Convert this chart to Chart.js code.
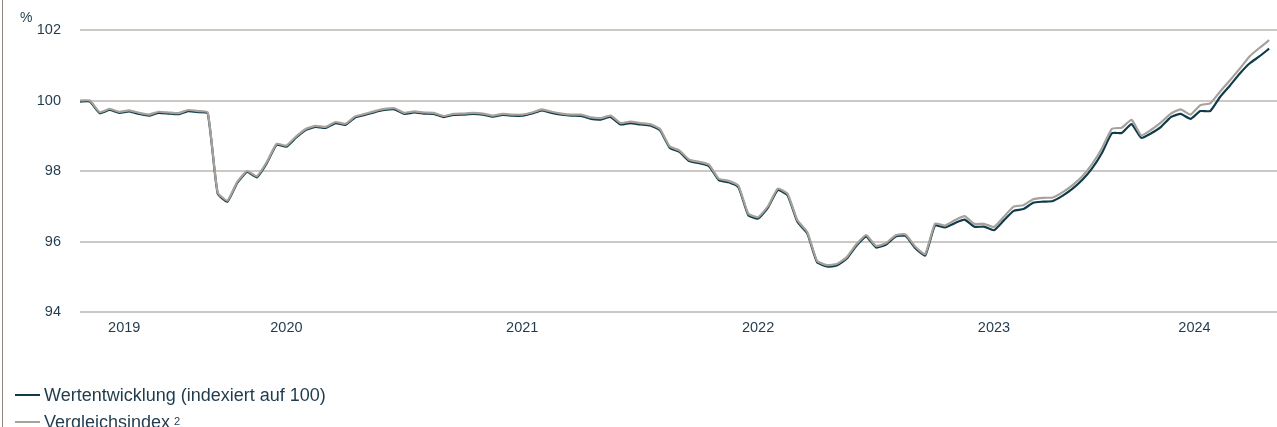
<!DOCTYPE html>
<html lang="de">
<head>
<meta charset="utf-8">
<title>Wertentwicklung</title>
<script src="https://cdn.jsdelivr.net/npm/chart.js@4.4.1/dist/chart.umd.min.js"></script>
<style>
  html, body { margin: 0; padding: 0; background: #fff; }
  #wrap { position: relative; width: 1277px; height: 427px; overflow: hidden; }
  #wrap::before { content: ''; position: absolute; left: 2px; top: 0; bottom: 0; border-left: 1px solid #8d847c; }
  #legend { position: absolute; left: 15px; top: 382px; font-family: "Liberation Sans", Arial, sans-serif; font-size: 18px; color: #1f3b4d; }
  .row { display: flex; align-items: center; height: 26.7px; line-height: 26.7px; white-space: nowrap; }
  .dash { width: 25px; height: 2px; margin-right: 4px; }
  .row sup { font-size: 11px; line-height: 0; position: relative; top: -1px; margin-left: 4px; }
</style>
</head>
<body>
<div id="wrap">
  <canvas id="chart" width="1277" height="427"></canvas>
  <div id="legend"></div>
</div>
<script>
// Halbmonatliche Stützpunkte
const dates = [
  '2019-08-15', '2019-09-01', '2019-09-15', '2019-10-01', '2019-10-15', '2019-11-01', '2019-11-15', '2019-12-01', '2019-12-15',
  '2020-01-01', '2020-01-15', '2020-02-01', '2020-02-15', '2020-03-01', '2020-03-15', '2020-04-01', '2020-04-15',
  '2020-05-01', '2020-05-15', '2020-06-01', '2020-06-15', '2020-07-01', '2020-07-15', '2020-08-01', '2020-08-15',
  '2020-09-01', '2020-09-15', '2020-10-01', '2020-10-15', '2020-11-01', '2020-11-15', '2020-12-01', '2020-12-15',
  '2021-01-01', '2021-01-15', '2021-02-01', '2021-02-15', '2021-03-01', '2021-03-15', '2021-04-01', '2021-04-15',
  '2021-05-01', '2021-05-15', '2021-06-01', '2021-06-15', '2021-07-01', '2021-07-15', '2021-08-01', '2021-08-15',
  '2021-09-01', '2021-09-15', '2021-10-01', '2021-10-15', '2021-11-01', '2021-11-15', '2021-12-01', '2021-12-15',
  '2022-01-01', '2022-01-15', '2022-02-01', '2022-02-15', '2022-03-01', '2022-03-15', '2022-04-01', '2022-04-15',
  '2022-05-01', '2022-05-15', '2022-06-01', '2022-06-15', '2022-07-01', '2022-07-15', '2022-08-01', '2022-08-15',
  '2022-09-01', '2022-09-15', '2022-10-01', '2022-10-15', '2022-11-01', '2022-11-15', '2022-12-01', '2022-12-15',
  '2023-01-01', '2023-01-15', '2023-02-01', '2023-02-15', '2023-03-01', '2023-03-15', '2023-04-01', '2023-04-15',
  '2023-05-01', '2023-05-15', '2023-06-01', '2023-06-15', '2023-07-01', '2023-07-15', '2023-08-01', '2023-08-15',
  '2023-09-01', '2023-09-15', '2023-10-01', '2023-10-15', '2023-11-01', '2023-11-15', '2023-12-01', '2023-12-15',
  '2024-01-01', '2024-01-15', '2024-02-01', '2024-02-15', '2024-03-01', '2024-03-15', '2024-04-01', '2024-04-15',
  '2024-05-01', '2024-05-15', '2024-06-01', '2024-06-15', '2024-07-01', '2024-07-15', '2024-08-01', '2024-08-15',
  '2024-09-01'
];

// Wertentwicklung (indexiert auf 100)
const fondsWerte = [
  99.97, 99.97, 99.64, 99.73, 99.65, 99.69, 99.62, 99.57, 99.65,
  99.63, 99.61, 99.70, 99.67, 99.63, 97.37, 97.13, 97.66,
  97.97, 97.82, 98.22, 98.74, 98.69, 98.95, 99.17, 99.25,
  99.22, 99.36, 99.31, 99.52, 99.59, 99.67, 99.73, 99.75,
  99.62, 99.66, 99.63, 99.62, 99.53, 99.59, 99.60, 99.62,
  99.60, 99.54, 99.59, 99.57, 99.57, 99.63, 99.72, 99.65,
  99.60, 99.57, 99.56, 99.48, 99.46, 99.53, 99.32, 99.36,
  99.32, 99.29, 99.16, 98.66, 98.54, 98.28, 98.22, 98.14,
  97.74, 97.68, 97.54, 96.75, 96.65, 96.96, 97.46, 97.31,
  96.56, 96.23, 95.41, 95.29, 95.32, 95.51, 95.88, 96.14,
  95.83, 95.91, 96.14, 96.16, 95.81, 95.60, 96.46, 96.40,
  96.52, 96.62, 96.42, 96.42, 96.32, 96.60, 96.87, 96.92,
  97.10, 97.13, 97.15, 97.30, 97.50, 97.75, 98.08, 98.52,
  99.07, 99.08, 99.33, 98.94, 99.07, 99.25, 99.53, 99.62,
  99.48, 99.70, 99.70, 100.10, 100.42, 100.76, 101.05, 101.25,
  101.47
];

// Vergleichsindex
const indexWerte = [
  100.00, 100.00, 99.67, 99.76, 99.68, 99.72, 99.65, 99.60, 99.68,
  99.66, 99.64, 99.73, 99.70, 99.66, 97.40, 97.16, 97.69,
  98.00, 97.85, 98.25, 98.77, 98.72, 98.98, 99.20, 99.28,
  99.25, 99.39, 99.34, 99.55, 99.62, 99.70, 99.76, 99.78,
  99.65, 99.69, 99.66, 99.65, 99.56, 99.62, 99.63, 99.65,
  99.63, 99.57, 99.62, 99.60, 99.60, 99.66, 99.75, 99.68,
  99.63, 99.60, 99.60, 99.52, 99.50, 99.57, 99.36, 99.40,
  99.36, 99.33, 99.20, 98.70, 98.58, 98.32, 98.26, 98.18,
  97.78, 97.72, 97.58, 96.79, 96.69, 97.00, 97.50, 97.35,
  96.60, 96.27, 95.45, 95.33, 95.36, 95.55, 95.92, 96.18,
  95.87, 95.95, 96.18, 96.20, 95.85, 95.64, 96.51, 96.45,
  96.60, 96.72, 96.50, 96.50, 96.41, 96.70, 96.99, 97.03,
  97.20, 97.24, 97.25, 97.40, 97.60, 97.85, 98.20, 98.65,
  99.20, 99.23, 99.45, 99.01, 99.17, 99.38, 99.63, 99.75,
  99.60, 99.87, 99.92, 100.25, 100.57, 100.90, 101.25, 101.49,
  101.71
];

const jahre = ['2019', '2020', '2021', '2022', '2023', '2024'];
const yTicks = [94, 96, 98, 100, 102];
const serienNamen = ['Wertentwicklung (indexiert auf 100)', 'Vergleichsindex'];
const fussnoten = ['', '2'];

const FARBE_FONDS = '#0e3c4b';
const FARBE_INDEX = '#a6a19b';
const FARBE_TEXT = '#1f3b4d';
const FARBE_GITTER = '#ccc8c3';
const X_MAX = 121.8;

// Jahresbeschriftung mittig über dem sichtbaren Teil des Jahres
const jahrTicks = jahre.map(j => {
  const first = dates.findIndex(d => d.startsWith(j));
  let last = first;
  dates.forEach((d, i) => { if (d.startsWith(j)) last = i; });
  return { value: (first + Math.min(last + 1, X_MAX)) / 2, label: j };
});

const prozentLabel = {
  id: 'prozentLabel',
  afterDraw(chart) {
    const ctx = chart.ctx;
    ctx.save();
    ctx.font = '14px "Liberation Sans", Arial, sans-serif';
    ctx.fillStyle = FARBE_TEXT;
    ctx.textAlign = 'left';
    ctx.textBaseline = 'middle';
    ctx.fillText('%', 20, 18);
    ctx.restore();
  }
};

new Chart(document.getElementById('chart'), {
  type: 'line',
  data: {
    datasets: [
      {
        label: serienNamen[0],
        data: fondsWerte.map((v, i) => ({ x: i, y: v })),
        borderColor: FARBE_FONDS,
        borderWidth: 2.2,
        pointRadius: 0,
        tension: 0.15,
        order: 2
      },
      {
        label: serienNamen[1],
        data: indexWerte.map((v, i) => ({ x: i, y: v })),
        borderColor: FARBE_INDEX,
        borderWidth: 2.2,
        pointRadius: 0,
        tension: 0.15,
        order: 1
      }
    ]
  },
  options: {
    responsive: false,
    animation: false,
    events: [],
    layout: { padding: { top: 30, bottom: 85, left: 0, right: 0 } },
    plugins: { legend: { display: false }, tooltip: { enabled: false } },
    scales: {
      x: {
        type: 'linear',
        min: 0,
        max: X_MAX,
        afterFit: s => { s.height = 30; },
        afterBuildTicks: s => { s.ticks = jahrTicks.map(t => ({ value: t.value })); },
        grid: { display: false, drawTicks: false },
        border: { display: false },
        ticks: {
          autoSkip: false,
          maxRotation: 0,
          padding: 7,
          color: FARBE_TEXT,
          font: { family: '"Liberation Sans", Arial, sans-serif', size: 14.5 },
          callback: v => (jahrTicks.find(t => Math.abs(t.value - v) < 0.01) || {}).label || ''
        }
      },
      y: {
        min: yTicks[0],
        max: yTicks[yTicks.length - 1],
        afterFit: s => { s.width = 80; },
        afterBuildTicks: s => { s.ticks = yTicks.map(v => ({ value: v })); },
        grid: { color: FARBE_GITTER, lineWidth: 2, drawTicks: false },
        border: { display: false },
        ticks: {
          padding: 19,
          color: FARBE_TEXT,
          font: { family: '"Liberation Sans", Arial, sans-serif', size: 14.5 }
        }
      }
    }
  },
  plugins: [prozentLabel]
});

// Legende unten links
const legend = document.getElementById('legend');
[FARBE_FONDS, FARBE_INDEX].forEach((farbe, i) => {
  const row = document.createElement('div');
  row.className = 'row';
  const dash = document.createElement('span');
  dash.className = 'dash';
  dash.style.background = farbe;
  const text = document.createElement('span');
  text.textContent = serienNamen[i];
  row.appendChild(dash);
  row.appendChild(text);
  if (fussnoten[i]) {
    const sup = document.createElement('sup');
    sup.textContent = fussnoten[i];
    row.appendChild(sup);
  }
  legend.appendChild(row);
});
</script>
</body>
</html>
